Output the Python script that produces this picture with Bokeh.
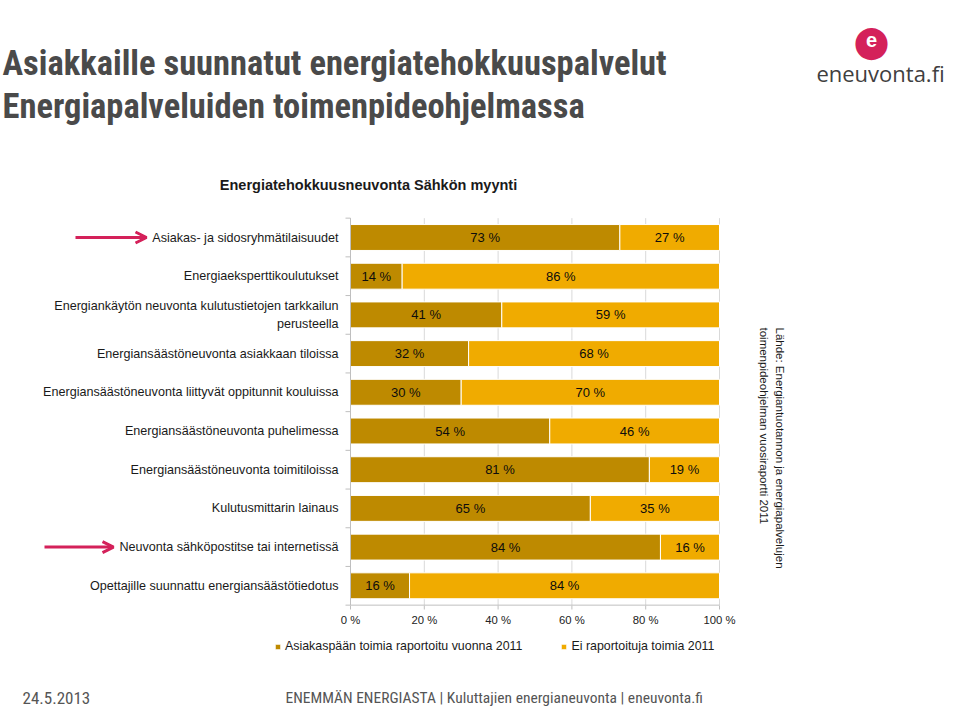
from bokeh.plotting import figure
from bokeh.models import (Range1d, Label, ColumnDataSource, Arrow, OpenHead,
                          Legend, LegendItem)
from bokeh.core.properties import value
from bokeh.embed import file_html
from bokeh.resources import INLINE
import math

# ---------------- data ----------------
categories = [
    "Asiakas- ja sidosryhmätilaisuudet",
    "Energiaeksperttikoulutukset",
    "Energiankäytön neuvonta kulutustietojen tarkkailun\nperusteella",
    "Energiansäästöneuvonta asiakkaan tiloissa",
    "Energiansäästöneuvonta liittyvät oppitunnit kouluissa",
    "Energiansäästöneuvonta puhelimessa",
    "Energiansäästöneuvonta toimitiloissa",
    "Kulutusmittarin lainaus",
    "Neuvonta sähköpostitse tai internetissä",
    "Opettajille suunnattu energiansäästötiedotus",
]
reported = [73, 14, 41, 32, 30, 54, 81, 65, 84, 16]
not_reported = [27, 86, 59, 68, 70, 46, 19, 35, 16, 84]
series_names = ["Asiakaspään toimia raportoitu vuonna 2011", "Ei raportoituja toimia 2011"]
x_ticks = [0, 20, 40, 60, 80, 100]
x_tick_labels = ["0 %", "20 %", "40 %", "60 %", "80 %", "100 %"]
arrow_rows = [0, 8]

title_lines = ["Asiakkaille suunnatut energiatehokkuuspalvelut",
               "Energiapalveluiden toimenpideohjelmassa"]
chart_title = "Energiatehokkuusneuvonta Sähkön myynti"
source_lines = ["Lähde: Energiantuotannon ja energiapalvelujen",
                "toimenpideohjelman vuosiraportti 2011"]
footer_date = "24.5.2013"
footer_text = "ENEMMÄN ENERGIASTA  |  Kuluttajien energianeuvonta  |  eneuvonta.fi"
logo_text = "eneuvonta.fi"

# ---------------- layout / styles ----------------
DARK = "#BE8A00"
LIGHT = "#F0AB00"
PINK = "#D4215A"
GRAY = "#4a4a4a"
AXIS = "#bfbfbf"
GRID = "#d9d9d9"
SANS = "Liberation Sans"
COND = "Roboto Condensed, Roboto"
ARROW_X = [(75, 146), (44, 113)]

W, H = 958, 708
PX0, PX100 = 350, 719          # pixel position of 0 % and 100 %
ROW0_PX, PITCH = 237, 38.7     # pixel centre of first row, row pitch
n = len(categories)
ypos = [n - 1 - i for i in range(n)]
kx = (PX100 - PX0) / 100.0
x_range = Range1d(-PX0 / kx, (W - PX0) / kx)
top_val = (n - 1) + ROW0_PX / PITCH
y_range = Range1d(top_val - H / PITCH, top_val)

p = figure(width=W, height=H, x_range=x_range, y_range=y_range,
           output_backend="svg", toolbar_location=None,
           min_border=0, x_axis_location=None, y_axis_location=None)
p.outline_line_color = None
p.background_fill_color = "white"
p.border_fill_color = "white"
p.xgrid.grid_line_color = None
p.ygrid.grid_line_color = None
p.extra_x_ranges = {"pgx": Range1d(0, W)}
p.extra_y_ranges = {"pgy": Range1d(H, 0)}

src = ColumnDataSource(dict(
    y=ypos,
    cat=categories,
    a=reported,
    tot=[a + b for a, b in zip(reported, not_reported)],
    xa=[a / 2 for a in reported],
    xb=[a + b / 2 for a, b in zip(reported, not_reported)],
    ta=[f"{a} %" for a in reported],
    tb=[f"{b} %" for b in not_reported],
))
ysrc = ColumnDataSource(dict(yb=[i - 0.5 for i in range(n + 1)]))
xsrc = ColumnDataSource(dict(x=x_ticks, lab=x_tick_labels))

y_lo, y_hi = -0.5, n - 0.5
# grid lines
p.segment(x0="x", y0=y_lo, x1="x", y1=y_hi, source=xsrc, line_color=GRID, line_width=1)
# bars
r1 = p.hbar(y="y", left=0, right="a", height=0.67, fill_color=DARK,
            line_color="white", line_width=1, source=src)
r2 = p.hbar(y="y", left="a", right="tot", height=0.67, fill_color=LIGHT,
            line_color="white", line_width=1, source=src)
# value labels
for xcol, tcol in (("xa", "ta"), ("xb", "tb")):
    p.text(x=xcol, y="y", text=tcol, source=src, text_align="center",
           text_baseline="middle", text_font=value(SANS),
           text_font_size="13px", text_color="#0d0d0d")

# x axis: line, ticks, labels
p.segment(x0=0, y0=y_lo, x1=100, y1=y_lo, line_color=AXIS, line_width=1)
p.segment(x0="x", y0=605, x1="x", y1=609, y_range_name="pgy", source=xsrc,
          line_color=AXIS, line_width=1)
p.text(x="x", y=619, text="lab", y_range_name="pgy", source=xsrc, text_align="center",
       text_baseline="middle", text_font=value(SANS), text_font_size="11.3px",
       text_color="#222222")
# y axis: line, boundary ticks, category labels
p.segment(x0=0, y0=y_lo, x1=0, y1=y_hi, line_color=AXIS, line_width=1)
p.segment(x0=PX0 - 5, y0="yb", x1=PX0, y1="yb", x_range_name="pgx", source=ysrc,
          line_color=AXIS, line_width=1)
p.text(x=0, y="y", text="cat", source=src, x_offset=-12, text_align="right",
       text_baseline="middle", text_font=value(SANS), text_font_size="12.6px",
       text_color="#1a1a1a", text_line_height=1.25)

# legend
legend = Legend(items=[LegendItem(label=series_names[0], renderers=[r1]),
                       LegendItem(label=series_names[1], renderers=[r2])],
                orientation="horizontal", location=(274, H - 653),
                glyph_width=7, glyph_height=7, label_standoff=4, spacing=38,
                padding=0, margin=0, border_line_color=None, background_fill_alpha=0,
                label_text_font=SANS, label_text_font_size="12.4px",
                label_text_color="#1a1a1a", label_height=14)
p.add_layout(legend)


def lab(text, x, y, **kw):
    kw.setdefault("text_baseline", "middle")
    p.add_layout(Label(text=text, x=x, y=y, x_range_name="pgx", y_range_name="pgy", **kw))


# slide title
for line, yy in zip(title_lines, (62, 105)):
    lab(line, 2, yy, text_font=COND, text_font_style="bold",
        text_font_size="34.5px", text_color=GRAY)

# chart title
lab(chart_title, 368, 184, text_align="center", text_font=SANS,
    text_font_style="bold", text_font_size="14.5px", text_color="#1a1a1a")

# arrows
for idx, (xs, xe) in zip(arrow_rows, ARROW_X):
    p.add_layout(Arrow(x_start=xs, x_end=xe, y_start=ypos[idx], y_end=ypos[idx],
                       x_range_name="pgx", line_color=PINK, line_width=3,
                       end=OpenHead(size=11, line_color=PINK, line_width=3)))

# source text (rotated)
for line, xx in zip(source_lines, (779, 763)):
    lab(line, xx, 327, angle=-math.pi / 2, text_align="left", text_font=SANS,
        text_font_size="11.5px", text_color="#1a1a1a")

# footer
lab(footer_date, 22, 697, text_font=COND, text_font_size="17px", text_color="#555555")
lab(footer_text, 285, 697, text_font=COND, text_font_size="15.5px", text_color="#555555")

# logo
lab("\u25CF", 871, 40, text_align="center", text_font="DejaVu Sans",
    text_font_size="42px", text_color=PINK)
lab("\u25BC", 871, 54, text_align="center", text_font="DejaVu Sans",
    text_font_size="10px", text_color=PINK)
lab("e", 871, 39, text_align="center", text_font=SANS,
    text_font_style="bold", text_font_size="20px", text_color="white")
lab(logo_text, 880, 72, text_align="center", text_font="Open Sans",
    text_font_size="22px", text_color="#404040")

open("out.html", "w").write(file_html(p, INLINE))
